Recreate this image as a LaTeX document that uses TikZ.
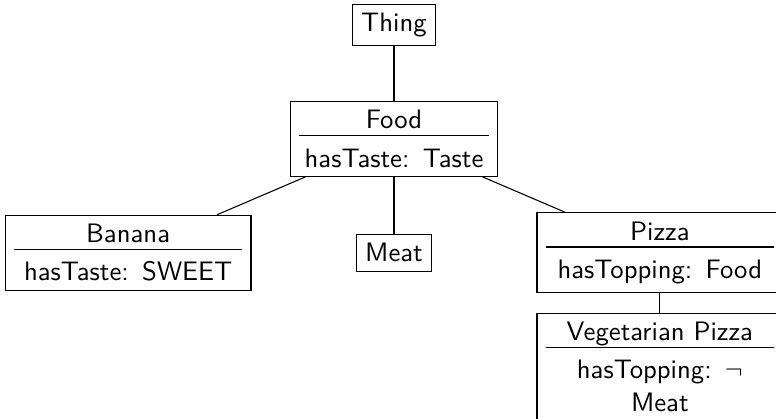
\documentclass[tikz,border=0pt]{standalone}
\usepackage{amssymb}
\usepackage{tikz}

% rule between class name and attribute
\newcommand{\classrule}{\\[-9.3pt]\rule{\linewidth}{0.4pt}\\[-0.4pt]}

\tikzset {
  % plain class box
  cls/.style = {draw, font=\sffamily},
  % class box with an attribute part
  attr/.style = {cls, text width=3cm, align=center},
  narrow/.style = {text width=2.5cm},
}

\begin{document}
\begin{tikzpicture}
      \useasboundingbox (-5.187, -5.187) rectangle (5.029, 0.329);
      \clip (-5.187, -5.187) rectangle (5.029, 0.329);

      \node[cls] (thing) at (0, 0) {Thing};
      \node[attr, narrow] (food) at (0, -1.5) {Food\classrule hasTaste: Taste};

      \node[attr] (banana) at (-3.5, -3) {Banana\classrule hasTaste: SWEET};
      \node[cls] (meat) at (0, -3) {Meat};
      \node[attr] (pizza) at (3.5, -3) {Pizza\classrule hasTopping: Food};

      \node[attr] (vegpizza) at (3.5, -4.5) {Vegetarian Pizza\classrule hasTopping: $\neg$\\Meat};

      \draw (thing) -- (food);
      \draw (food) -- (banana);
      \draw (food) -- (meat);
      \draw (food) -- (pizza);
      \draw (pizza) -- (vegpizza);
\end{tikzpicture}
\end{document}
